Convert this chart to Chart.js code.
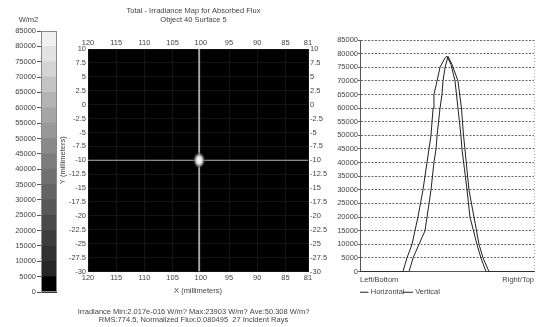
<!DOCTYPE html>
<html><head><meta charset="utf-8">
<script src="https://cdn.jsdelivr.net/npm/chart.js@4.4.1/dist/chart.umd.min.js"></script>
<style>
html,body{margin:0;padding:0;background:#fff;width:543px;height:327px;overflow:hidden;}
.box{position:absolute;}
</style></head><body>
<div class="box" style="left:0;top:0;width:62px;height:300px"><canvas id="cb"></canvas></div>
<div class="box" style="left:50px;top:0;width:290px;height:327px"><canvas id="map"></canvas></div>
<div class="box" style="left:330px;top:0;width:213px;height:308px"><canvas id="prof"></canvas></div>
<script>
// ---------- data ----------
const colorbarUnit = 'W/m2';
const colorbarTicks = [0,5000,10000,15000,20000,25000,30000,35000,40000,45000,50000,55000,60000,65000,70000,75000,80000,85000];

const mapTitle = ['Total - Irradiance Map for Absorbed Flux', 'Object 40 Surface 5'];
const mapFooter = ['Irradiance Min:2.017e-016 W/m? Max:23903 W/m? Ave:50.308 W/m?',
                   'RMS:774.5, Normalized Flux:0.080495  27 Incident Rays'];
const mapXTicks = [120,115,110,105,100,95,90,85,81];
const mapYMin = -30, mapYMax = 10, mapYStep = 2.5;
const mapXTitle = 'X (millimeters)';
const mapYTitle = 'Y (millimeters)';
const spotX = [100.3];
const spotY = [-10];

const profXLabels = ['Left/Bottom', 'Right/Top'];
const profYTicks = [0,5000,10000,15000,20000,25000,30000,35000,40000,45000,50000,55000,60000,65000,70000,75000,80000,85000];
const horizontalPos = [0,24.7,27.0,29.9,33.3,36.2,38.5,40.8,42.0,42.5,44.3,46.0,48.9,50.0,52.3,54.6,56.3,58.0,58.6,61.5,63.2,67.2,69.5,72.4,100];
const horizontalVal = [0,0,5000,10000,20000,30000,40000,50000,60000,65000,70000,75000,78500,79000,76000,70000,60000,50000,45000,30000,20000,10000,5000,0,0];
const verticalPos = [0,28.2,30.5,33.9,37.4,38.5,39.7,40.8,42.5,43.7,44.3,46.0,47.1,47.7,48.9,50.6,52.9,56.3,58.3,59.5,60.3,62.6,65.5,68.4,70.7,74.1,100];
const verticalVal = [0,0,5000,10000,15000,20000,25000,30000,40000,45000,50000,60000,65000,70000,75000,79000,76000,70000,60000,50000,45000,30000,20000,10000,5000,0,0];

// ---------- styles ----------
const F = "'Liberation Sans', Arial, sans-serif";
const TXT = '#444';
const font = (s) => ({family: F, size: s, lineHeight: 1.2, weight: 'normal'});
const grays = [0,38,50,62,74,88,100,112,124,138,152,166,180,196,212,226,240];
const plain = (v) => String(v);

// ---------- colorbar ----------
new Chart(document.getElementById('cb'), {
  type: 'bar',
  data: {
    labels: [''],
    datasets: colorbarTicks.slice(0, -1).map((v, i) => ({
      data: [colorbarTicks[i + 1] - v],
      backgroundColor: `rgb(${grays[i]},${grays[i]},${grays[i]})`,
      borderWidth: 0, barPercentage: 1, categoryPercentage: 1
    }))
  },
  options: {
    responsive: true, maintainAspectRatio: false, animation: false,
    layout: {padding: {top: 13, left: 0, right: 5, bottom: 8}},
    plugins: {
      legend: {display: false}, tooltip: {enabled: false},
      title: {display: true, text: colorbarUnit, font: font(7.5), color: TXT, padding: {top: 2, bottom: 7}}
    },
    scales: {
      x: {stacked: true, display: false},
      y: {
        stacked: true, min: 0, max: 85000, z: 1,
        afterBuildTicks: s => { s.ticks = colorbarTicks.map(v => ({value: v})); },
        ticks: {font: font(7.5), color: TXT, padding: 1, callback: plain},
        grid: {color: '#3a3a3a', tickLength: 4, tickColor: '#555'},
        border: {color: '#888'},
        afterFit: s => { s.width = 41; }
      }
    }
  },
  plugins: [{
    id: 'frame',
    afterDraw(c) {
      const a = c.chartArea, ctx = c.ctx;
      ctx.save(); ctx.strokeStyle = '#888'; ctx.lineWidth = 1;
      ctx.strokeRect(a.left + 0.5, a.top + 0.5, a.right - a.left - 1, a.bottom - a.top - 1);
      ctx.restore();
    }
  }]
});

// ---------- map ----------
function makeBlob() {
  const c = document.createElement('canvas'); c.width = 12; c.height = 16;
  const g = c.getContext('2d');
  g.translate(6, 8); g.scale(1, 1.35);
  const r = g.createRadialGradient(0, 0, 0, 0, 0, 6);
  r.addColorStop(0, 'rgba(255,255,255,1)');
  r.addColorStop(0.45, 'rgba(230,230,230,1)');
  r.addColorStop(0.75, 'rgba(120,120,120,0.85)');
  r.addColorStop(1, 'rgba(40,40,40,0)');
  g.fillStyle = r; g.beginPath(); g.arc(0, 0, 6, 0, Math.PI * 2); g.fill();
  return c;
}
const xMin = Math.min(...mapXTicks), xMax = Math.max(...mapXTicks);
const xAxis = (pos) => ({
  type: 'linear', position: pos, reverse: true, min: xMin, max: xMax,
  afterBuildTicks: s => { s.ticks = mapXTicks.map(v => ({value: v})); },
  ticks: {font: font(7.5), color: TXT, padding: 2, maxRotation: 0, autoSkip: false, callback: plain},
  grid: {color: '#141414', drawTicks: false},
  border: {display: false},
  title: pos === 'bottom' ? {display: true, text: mapXTitle, font: font(7.5), color: TXT, padding: {top: 0, bottom: 0}} : {display: false},
  afterFit: s => { s.height = 24; }
});
const yAxis = (pos) => ({
  type: 'linear', position: pos, min: mapYMin, max: mapYMax,
  ticks: {stepSize: mapYStep, font: font(7.5), color: TXT, padding: 2, callback: plain},
  grid: {color: '#141414', drawTicks: false, display: pos === 'left'},
  border: {display: false},
  title: pos === 'left' ? {display: true, text: mapYTitle, font: font(7.5), color: TXT, padding: {top: 4.5, bottom: 0}} : {display: false},
  afterFit: s => { s.width = pos === 'left' ? 34 : 25; }
});
new Chart(document.getElementById('map'), {
  type: 'scatter',
  data: {
    datasets: [
      {data: spotX.map((x, i) => ({x, y: spotY[i]})), pointStyle: makeBlob(), pointRadius: 6, xAxisID: 'x', yAxisID: 'y'},
      {type: 'line', data: [{x: spotX[0], y: mapYMax}, {x: spotX[0], y: mapYMin}], borderColor: '#b0b0b0', borderWidth: 1, pointRadius: 0, xAxisID: 'x', yAxisID: 'y'},
      {type: 'line', data: [{x: xMax, y: spotY[0]}, {x: xMin, y: spotY[0]}], borderColor: '#b0b0b0', borderWidth: 1, pointRadius: 0, xAxisID: 'x', yAxisID: 'y'}
    ]
  },
  options: {
    responsive: true, maintainAspectRatio: false, animation: false,
    layout: {padding: {top: 4, left: 4, right: 7, bottom: 3}},
    plugins: {
      legend: {display: false}, tooltip: {enabled: false},
      title: {display: true, text: mapTitle, font: font(7.5), color: TXT, padding: {top: 2, bottom: 1}},
      subtitle: {display: true, position: 'bottom', text: mapFooter, font: {family: F, size: 7.5, lineHeight: 1.1, weight: 'normal'}, color: TXT, padding: {top: 12, bottom: 0}}
    },
    scales: {x: xAxis('bottom'), xTop: xAxis('top'), y: yAxis('left'), yRight: yAxis('right')}
  },
  plugins: [{
    id: 'blackBg',
    beforeDraw(c) {
      const a = c.chartArea, ctx = c.ctx;
      ctx.save(); ctx.fillStyle = '#000';
      ctx.fillRect(a.left, a.top, a.right - a.left, a.bottom - a.top);
      ctx.restore();
    }
  }]
});

// ---------- profile ----------
new Chart(document.getElementById('prof'), {
  type: 'line',
  data: {
    datasets: [
      {label: 'Horizontal', data: horizontalPos.map((x, i) => ({x, y: horizontalVal[i]})), borderColor: '#222', borderWidth: 1, pointRadius: 0, tension: 0},
      {label: 'Vertical', data: verticalPos.map((x, i) => ({x, y: verticalVal[i]})), borderColor: '#222', borderWidth: 1, pointRadius: 0, tension: 0}
    ]
  },
  options: {
    responsive: true, maintainAspectRatio: false, animation: false,
    layout: {padding: {top: 40, left: 0, right: 9, bottom: 2}},
    plugins: {
      tooltip: {enabled: false},
      legend: {
        display: true, position: 'bottom', align: 'start', fullSize: false,
        labels: {usePointStyle: true, pointStyle: 'line', boxWidth: 7, boxHeight: 7, padding: 0, font: font(7.5), color: TXT}
      }
    },
    scales: {
      x: {
        type: 'linear', min: 0, max: 100,
        afterBuildTicks: s => { s.ticks = [{value: 0}, {value: 100}]; },
        ticks: {callback: (v, i) => profXLabels[i], align: 'inner', padding: 4, font: font(7.5), color: TXT, maxRotation: 0, autoSkip: false},
        grid: {color: '#aaa', drawTicks: false},
        border: {color: '#555', dash: [1, 2]}
      },
      y: {
        min: 0, max: 85000,
        afterBuildTicks: s => { s.ticks = profYTicks.map(v => ({value: v})); },
        ticks: {font: font(7.5), color: TXT, padding: 0, callback: plain},
        grid: {color: '#666', tickLength: 2, tickColor: '#666'},
        border: {color: '#555', dash: [2, 1.5]},
        afterFit: s => { s.width = 30; }
      }
    }
  }
});
</script>
</body></html>
